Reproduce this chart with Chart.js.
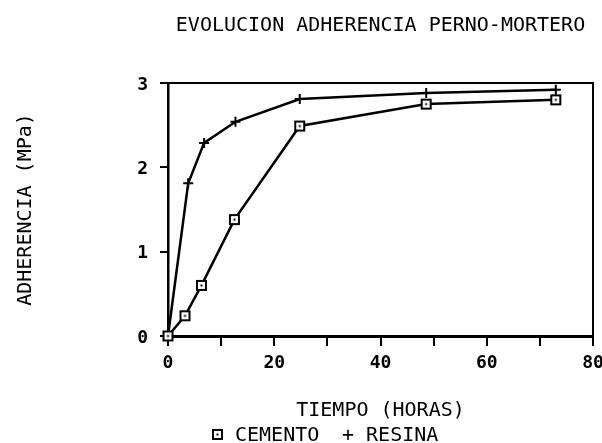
<!DOCTYPE html>
<html>
<head>
<meta charset="utf-8">
<script src="https://cdn.jsdelivr.net/npm/chart.js@4.4.1/dist/chart.umd.min.js"></script>
<style>
  html, body { margin: 0; padding: 0; background: #fff; }
  #grafico { display: block; }
</style>
</head>
<body>
<canvas id="grafico" width="602" height="443"></canvas>
<script>
const series = ["CEMENTO", "RESINA"];
const horasCemento = [0, 3.2, 6.3, 12.5, 24.8, 48.6, 73];
const cemento = [0, 0.24, 0.6, 1.38, 2.49, 2.75, 2.8];
const horasResina = [0, 3.8, 6.8, 12.7, 24.8, 48.6, 73];
const resina = [0, 1.81, 2.29, 2.54, 2.81, 2.88, 2.92];
const xTicks = [0, 10, 20, 30, 40, 50, 60, 70, 80];
const xTickLabels = ["0", "", "20", "", "40", "", "60", "", "80"];
const yTicks = [0, 1, 2, 3];
const yTickLabels = ["0", "1", "2", "3"];

Chart.defaults.font.family = "DejaVu Sans Mono";
Chart.defaults.font.size = 18;
Chart.defaults.color = "#000";

// square marker with a dot in the middle, like the plotter's
function squareMarker() {
  const c = document.createElement("canvas");
  c.width = 13;
  c.height = 13;
  const g = c.getContext("2d");
  g.fillStyle = "#fff";
  g.fillRect(1, 1, 11, 11);
  g.strokeStyle = "#000";
  g.lineWidth = 2;
  g.strokeRect(2, 2, 9, 9);
  g.fillStyle = "#000";
  g.fillRect(5.5, 5.5, 2, 2);
  return c;
}
const marker = squareMarker();

const toPoints = (xs, ys) => xs.map((x, i) => ({ x: x, y: ys[i] }));

// top and right edges of the frame
const frame = {
  id: "frame",
  beforeDatasetsDraw(chart) {
    const { ctx, chartArea } = chart;
    ctx.save();
    ctx.strokeStyle = "#000";
    ctx.lineWidth = 2;
    ctx.beginPath();
    ctx.moveTo(chartArea.left, chartArea.top);
    ctx.lineTo(chartArea.right, chartArea.top);
    ctx.lineTo(chartArea.right, chartArea.bottom);
    ctx.stroke();
    ctx.restore();
  },
};

// legend under the axis title
const leyenda = {
  id: "leyenda",
  afterDraw(chart) {
    const ctx = chart.ctx;
    ctx.save();
    ctx.font = '20px "DejaVu Sans Mono"';
    ctx.fillStyle = "#000";
    ctx.textBaseline = "alphabetic";
    ctx.drawImage(marker, 211, 428);
    ctx.fillText(series[0], 235, 441);
    ctx.fillText("+ " + series[1], 342, 441);
    ctx.restore();
  },
};

let config = {
  type: "line",
  data: {
    datasets: [
      {
        label: series[0],
        data: toPoints(horasCemento, cemento),
        borderColor: "#000",
        borderWidth: 2.5,
        tension: 0,
        pointStyle: marker,
        pointRadius: 5,
        clip: false,
      },
      {
        label: series[1],
        data: toPoints(horasResina, resina),
        borderColor: "#000",
        borderWidth: 2.5,
        tension: 0,
        pointStyle: "cross",
        pointRadius: 5,
        pointBorderColor: "#000",
        pointBorderWidth: 2,
        clip: false,
      },
    ],
  },
  options: {
    responsive: false,
    animation: false,
    layout: { padding: { top: 0, right: 9, bottom: 0, left: 0 } },
    scales: {
      x: {
        type: "linear",
        min: 0,
        max: 80,
        afterBuildTicks: (s) => {
          s.ticks = xTicks.map((v) => ({ value: v }));
        },
        afterFit: (s) => {
          s.height = 107;
          s.paddingLeft = 0;
          s.paddingRight = 0;
        },
        ticks: {
          autoSkip: false,
          maxRotation: 0,
          padding: 7,
          font: { weight: "bold" },
          callback: (v, i) => xTickLabels[i],
        },
        grid: {
          drawOnChartArea: false,
          drawTicks: true,
          tickLength: 10,
          color: "#000",
          lineWidth: 2,
        },
        border: { display: true, color: "#000", width: 3 },
        title: {
          display: true,
          text: "TIEMPO (HORAS)",
          font: { size: 20 },
          padding: { top: 0, bottom: 20 },
        },
      },
      y: {
        min: 0,
        max: 3,
        afterBuildTicks: (s) => {
          s.ticks = yTicks.map((v) => ({ value: v }));
        },
        afterFit: (s) => {
          s.width = 168;
          s.paddingTop = 0;
          s.paddingBottom = 0;
        },
        ticks: {
          padding: 12,
          labelOffset: 2,
          font: { weight: "bold" },
          callback: (v, i) => yTickLabels[i],
        },
        grid: {
          drawOnChartArea: false,
          drawTicks: true,
          tickLength: 8,
          color: "#000",
          lineWidth: 2,
        },
        border: { display: true, color: "#000", width: 2.5 },
        title: {
          display: true,
          text: "ADHERENCIA (MPa)",
          font: { size: 20 },
          padding: { top: 14, bottom: 0 },
        },
      },
    },
    plugins: {
      legend: { display: false },
      tooltip: { enabled: false },
      title: {
        display: true,
        text: "EVOLUCION ADHERENCIA PERNO-MORTERO",
        fullSize: false,
        font: { size: 20, weight: "normal" },
        padding: { top: 14, bottom: 45 },
      },
    },
  },
  plugins: [frame, leyenda],
};
const grafico = new Chart(document.getElementById("grafico"), config);
</script>
</body>
</html>
